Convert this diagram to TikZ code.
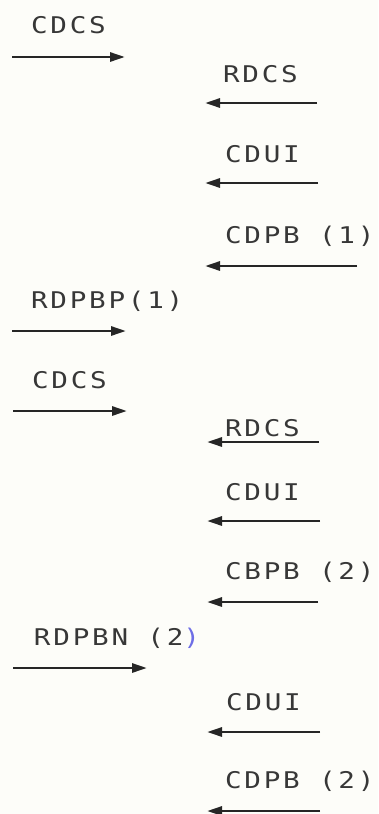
\documentclass[tikz,border=0pt]{standalone}
\usepackage{fontspec}
\usetikzlibrary{arrows.meta}
\newfontfamily\twfont[FakeStretch=1.2,LetterSpace=12]{DejaVu Sans Mono}
\definecolor{paper}{RGB}{253,253,249}
\definecolor{ink}{RGB}{55,55,55}
\definecolor{scanblue}{RGB}{110,110,230}
\tikzset{
  lbl/.style={anchor=base west, inner sep=0pt, outer sep=0pt, text=ink,
              font=\twfont\fontsize{23}{23}\selectfont},
  msg/.style={line width=2.8pt, draw=black!85, -{Triangle[length=15pt,width=9pt]}}
}
\begin{document}
\begin{tikzpicture}[x=1pt,y=-1pt]
\fill[paper] (0,0) rectangle (378,814);
\useasboundingbox (0,0) rectangle (378,814);
% labels
\node[lbl] (t1)  at (31,33)  {CDCS};
\node[lbl] (t2)  at (223,82) {RDCS};
\node[lbl] (t3)  at (225,162) {CDUI};
\node[lbl] (t4)  at (225,243) {CDPB (1)};
\node[lbl] (t5)  at (31,308) {RDPBP(1)};
\node[lbl] (t6)  at (32,388) {CDCS};
\node[lbl] (t7)  at (225,436) {RDCS};
\node[lbl] (t8)  at (225,500) {CDUI};
\node[lbl] (t9)  at (225,579) {CBPB (2)};
\node[lbl] (t10) at (34,645) {RDPBN (2\textcolor{scanblue}{)}};
\node[lbl] (t11) at (226,710) {CDUI};
\node[lbl] (t12) at (225,788) {CDPB (2)};
% arrow end points
\coordinate (a1s) at (12,57);   \coordinate (a1e) at (125,57);
\coordinate (a2s) at (317,103); \coordinate (a2e) at (205,103);
\coordinate (a3s) at (318,183); \coordinate (a3e) at (205,183);
\coordinate (a4s) at (357,266); \coordinate (a4e) at (205,266);
\coordinate (a5s) at (12,331);  \coordinate (a5e) at (126,331);
\coordinate (a6s) at (13,411);  \coordinate (a6e) at (127,411);
\coordinate (a7s) at (319,442); \coordinate (a7e) at (207,442);
\coordinate (a8s) at (320,521); \coordinate (a8e) at (207,521);
\coordinate (a9s) at (318,602); \coordinate (a9e) at (207,602);
\coordinate (a10s) at (13,668); \coordinate (a10e) at (147,668);
\coordinate (a11s) at (320,732); \coordinate (a11e) at (207,732);
\coordinate (a12s) at (320,811); \coordinate (a12e) at (207,811);
% arrows
\foreach \i in {1,...,12} { \draw[msg] (a\i s) -- (a\i e); }
\end{tikzpicture}
\end{document}
